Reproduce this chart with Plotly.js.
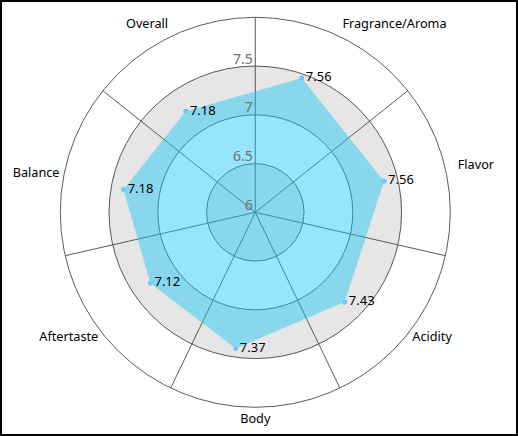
<!DOCTYPE html>
<html>
<head>
<meta charset="utf-8">
<script src="https://cdn.plot.ly/plotly-3.0.1.min.js"></script>
<style>
  html, body { margin: 0; padding: 0; background: #fff; }
  #wrap { position: relative; width: 518px; height: 436px; }
  #chart { position: absolute; left: 0; top: 0; width: 518px; height: 436px; }
  #frame { position: absolute; left: 0; top: 0; width: 518px; height: 436px;
           box-sizing: border-box; border: 2px solid #000; pointer-events: none; }
</style>
</head>
<body>
<div id="wrap"><div id="chart"></div><div id="frame"></div></div>
<script>
// ---- data ----
const categories = ['Fragrance/Aroma', 'Flavor', 'Acidity', 'Body', 'Aftertaste', 'Balance', 'Overall'];
const scores = [7.56, 7.56, 7.43, 7.37, 7.12, 7.18, 7.18];
const radialTicks = [6, 6.5, 7, 7.5];
const radialRange = [6, 8];
const bandLower = [6, 7];
const bandSpan = 0.5;

// ---- style ----
const FONT = 'Noto Sans, Open Sans, sans-serif';
const GRID = '#5a5a5a';
const BAND = '#e6e6e6';
const labelRotation = 90 - 180 / categories.length;
// how far outside the outer ring each category label sits (radial units)
const labelPads = [0.06, 0.13, 0.06, 0.06, 0.06, 0.06, 0.06];
const labelPositions = ['top right', 'middle right', 'middle right', 'bottom center',
                        'middle left', 'bottom left', 'top left'];
// label subplot is drawn larger than the grid (212px vs 195px radius) with the same scale
const labelScale = 212 / 195;
const labelRange = [radialRange[0], radialRange[0] + (radialRange[1] - radialRange[0]) * labelScale];

const traces = [];

// grey bands
bandLower.forEach(function (b) {
  traces.push({
    type: 'barpolar',
    subplot: 'polar',
    theta: categories,
    r: categories.map(function () { return bandSpan; }),
    base: categories.map(function () { return b; }),
    marker: { color: BAND, line: { color: BAND, width: 1 } },
    hoverinfo: 'skip',
    showlegend: false
  });
});

// carrier for the grid polar (spokes + rings)
traces.push({ type: 'scatterpolar', subplot: 'polar2', theta: categories, r: scores,
              mode: 'none', hoverinfo: 'skip', showlegend: false });

// data polygon
traces.push({
  type: 'scatterpolar',
  subplot: 'polar3',
  theta: categories,
  r: scores,
  mode: 'markers+text',
  fill: 'toself',
  fillcolor: 'rgba(22,197,246,0.45)',
  line: { width: 0, color: 'rgba(0,0,0,0)' },
  marker: { size: 5, color: 'rgb(110,200,250)' },
  text: scores.map(function (v) { return v.toFixed(2); }),
  textposition: 'middle right',
  textfont: { family: FONT, size: 13, color: '#000' },
  cliponaxis: false,
  showlegend: false
});

// category labels around the outer ring
traces.push({
  type: 'scatterpolar',
  subplot: 'polar4',
  theta: categories,
  r: labelPads.map(function (p) { return radialRange[1] + p; }),
  mode: 'text',
  text: categories,
  textposition: labelPositions,
  textfont: { family: FONT, size: 12.7, color: '#000' },
  cliponaxis: false,
  hoverinfo: 'skip',
  showlegend: false
});

// carrier for radial tick labels
traces.push({ type: 'scatterpolar', subplot: 'polar5', theta: categories, r: scores,
              mode: 'none', hoverinfo: 'skip', showlegend: false });

const gridDomain = { x: [0.1164, 0.8693], y: [0.0658, 0.9603] };
const dataDomain = { x: [0.0786, 0.8315], y: [0.0596, 0.9541] };
const tickDomain = { x: [0.1164, 0.8693], y: [0.0819, 0.9764] };
const labelDomain = { x: [0.0836, 0.9021], y: [0.0268, 0.9993] };

function catAxis(rot, extra) {
  return Object.assign({
    type: 'category', categoryorder: 'array', categoryarray: categories,
    rotation: rot, direction: 'clockwise',
    showticklabels: false, showgrid: false, showline: false, ticks: ''
  }, extra || {});
}
function hiddenRadial(extra) {
  return Object.assign({ range: radialRange, showgrid: false, showline: false,
                         showticklabels: false, ticks: '' }, extra || {});
}

const layout = {
  width: 518,
  height: 436,
  margin: { l: 0, r: 0, t: 0, b: 0 },
  paper_bgcolor: '#fff',
  font: { family: FONT, size: 13, color: '#000' },
  showlegend: false,
  polar: {
    domain: gridDomain,
    bgcolor: '#fff',
    bargap: 0,
    barmode: 'overlay',
    radialaxis: hiddenRadial(),
    angularaxis: catAxis(labelRotation)
  },
  polar2: {
    domain: gridDomain,
    bgcolor: 'rgba(0,0,0,0)',
    radialaxis: hiddenRadial({ tickvals: radialTicks, showgrid: true, gridcolor: GRID, gridwidth: 1 }),
    angularaxis: catAxis(90, { showgrid: true, gridcolor: GRID, gridwidth: 1,
                               showline: true, linecolor: GRID, linewidth: 1 })
  },
  polar3: {
    domain: dataDomain,
    bgcolor: 'rgba(0,0,0,0)',
    radialaxis: hiddenRadial(),
    angularaxis: catAxis(labelRotation)
  },
  polar4: {
    domain: labelDomain,
    bgcolor: 'rgba(0,0,0,0)',
    radialaxis: hiddenRadial({ range: labelRange }),
    angularaxis: catAxis(labelRotation)
  },
  polar5: {
    domain: tickDomain,
    bgcolor: 'rgba(0,0,0,0)',
    radialaxis: hiddenRadial({
      tickvals: radialTicks, showticklabels: true, angle: 90, tickangle: 90,
      side: 'counterclockwise',
      tickfont: { family: FONT, size: 14, color: '#707070' }
    }),
    angularaxis: catAxis(90)
  }
};

Plotly.newPlot('chart', traces, layout, { displayModeBar: false, staticPlot: true });
</script>
</body>
</html>
